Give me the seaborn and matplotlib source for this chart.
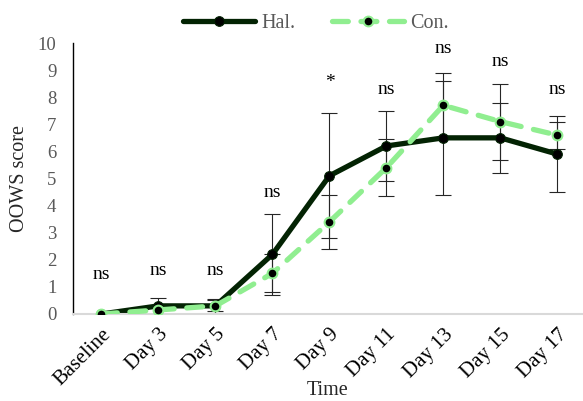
import matplotlib
matplotlib.use('Agg')
import matplotlib.pyplot as plt
import seaborn as sns
import numpy as np
import pandas as pd

# data
days = ['Baseline', 'Day 3', 'Day 5', 'Day 7', 'Day 9', 'Day 11', 'Day 13', 'Day 15', 'Day 17']
hal_mean = [0.0, 0.3, 0.3, 2.2, 5.1, 6.2, 6.5, 6.5, 5.9]
hal_err = [0.0, 0.3, 0.25, 1.5, 2.3, 1.3, 2.1, 1.3, 1.4]
con_mean = [0.0, 0.15, 0.3, 1.5, 3.4, 5.4, 7.7, 7.1, 6.6]
con_err = [0.0, 0.15, 0.2, 0.7, 1.0, 1.05, 1.2, 1.4, 0.5]
signif = ['ns', 'ns', 'ns', 'ns', '*', 'ns', 'ns', 'ns', 'ns']
signif_y = [1.45, 1.6, 1.6, 4.5, 8.55, 8.3, 9.8, 9.3, 8.3]

hal_color = '#032303'
con_color = '#90ee90'

sns.set_style('white')
plt.rcParams['font.family'] = ['Liberation Serif', 'DejaVu Serif']

pos = np.arange(len(days))
df = pd.DataFrame({
    'pos': np.concatenate([pos, pos]),
    'score': hal_mean + con_mean,
    'group': ['Hal.'] * len(days) + ['Con.'] * len(days),
})

fig = plt.figure(figsize=(5.83, 4.01), dpi=100)
ax = fig.add_axes([73 / 583, 87 / 401, 510 / 583, 271 / 401])

# error bars
ax.errorbar(pos, hal_mean, yerr=hal_err, fmt='none', ecolor='#262626',
            elinewidth=0.8, capsize=6, capthick=0.8, zorder=1)
ax.errorbar(pos, con_mean, yerr=con_err, fmt='none', ecolor='#262626',
            elinewidth=0.8, capsize=6, capthick=0.8, zorder=1)

sns.lineplot(data=df[df.group == 'Hal.'], x='pos', y='score', ax=ax,
             color=hal_color, linewidth=3.8, marker='o', markersize=7,
             markerfacecolor='black', markeredgecolor=hal_color,
             solid_capstyle='round', label='Hal.', zorder=2)
sns.lineplot(data=df[df.group == 'Con.'], x='pos', y='score', ax=ax,
             color=con_color, linewidth=3.8, linestyle=(0, (3, 2.4)),
             dash_capstyle='round',
             marker='o', markersize=7, markerfacecolor='black',
             markeredgecolor=con_color, markeredgewidth=1.5,
             label='Con.', zorder=3)

# significance labels
for i, s in enumerate(signif):
    ax.text(i, signif_y[i], s, ha='center', va='center', fontsize=14,
            color='black')

ax.set_xlim(-0.5, 8.45)
ax.set_ylim(0, 10)
ax.set_yticks(range(0, 11))
ax.set_xticks(pos)
ax.set_xticklabels(days, rotation=45, ha='right', rotation_mode='anchor')
ax.tick_params(axis='y', length=0, labelsize=13.5, colors='#595959', pad=12)
ax.tick_params(axis='x', length=0, labelsize=15, colors='black', pad=8)
ax.set_xlabel('Time', fontsize=14.5, labelpad=-6)
ax.set_ylabel('OOWS score', fontsize=14.5, labelpad=6)

for side in ['top', 'right']:
    ax.spines[side].set_visible(False)
ax.spines['left'].set_color('black')
ax.spines['left'].set_linewidth(1.0)
ax.spines['bottom'].set_color('#d9d9d9')
ax.spines['bottom'].set_linewidth(1.5)

ax.legend(loc='center', bbox_to_anchor=(316 / 583, 1 - 23 / 401),
          bbox_transform=fig.transFigure, ncol=2, frameon=False,
          fontsize=14.5, handlelength=3.6, columnspacing=1.8,
          labelcolor='#595959', handletextpad=0.3)

fig.savefig('out.png', dpi=100)
plt.close(fig)
